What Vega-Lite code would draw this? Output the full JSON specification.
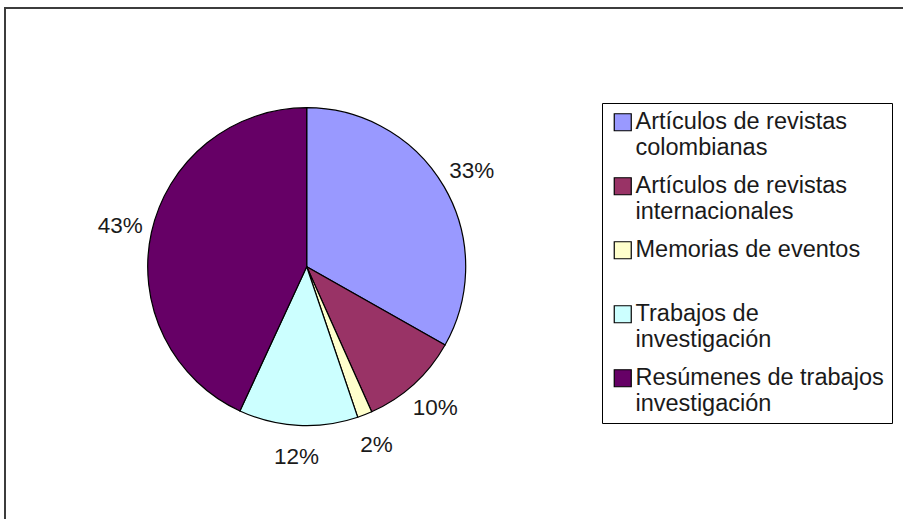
{
  "$schema": "https://vega.github.io/schema/vega-lite/v6.json",
  "width": 903,
  "height": 519,
  "padding": {"left": 5, "top": 8, "right": 0, "bottom": 0},
  "autosize": {"type": "none"},
  "background": "white",
  "config": {
    "view": {"stroke": null},
    "font": "Liberation Sans"
  },
  "datasets": {
    "marco": [{"marco": 1}],
    "datos": [
      {"idx": 1, "categoria": "Artículos de revistas colombianas", "valor": 33.2, "etiqueta": "33%"},
      {"idx": 2, "categoria": "Artículos de revistas internacionales", "valor": 10.1, "etiqueta": "10%"},
      {"idx": 3, "categoria": "Memorias de eventos", "valor": 1.5, "etiqueta": "2%"},
      {"idx": 4, "categoria": "Trabajos de investigación", "valor": 12.1, "etiqueta": "12%"},
      {"idx": 5, "categoria": "Resúmenes de trabajos investigación", "valor": 43.1, "etiqueta": "43%"}
    ]
  },
  "layer": [
    {
      "data": {"name": "marco"},
      "mark": {"type": "rect", "x": 0, "y": 0, "x2": "width", "y2": "height", "fill": null, "stroke": "#3c3c3c", "strokeWidth": 2},
      "encoding": {}
    },
    {
      "data": {"name": "datos"},
      "mark": {"type": "arc", "outerRadius": 159, "stroke": "#000000", "strokeWidth": 1.2, "x": 301.7, "y": 258.7},
      "encoding": {
        "theta": {"field": "valor", "type": "quantitative", "stack": true},
        "order": {"field": "idx", "type": "quantitative"},
        "color": {
          "field": "categoria",
          "type": "nominal",
          "scale": {
            "domain": ["Artículos de revistas colombianas", "Artículos de revistas internacionales", "Memorias de eventos", "Trabajos de investigación", "Resúmenes de trabajos investigación"],
            "range": ["#9999FF", "#993366", "#FFFFCC", "#CCFFFF", "#660066"]
          },
          "legend": {
            "orient": "none",
            "legendX": 597,
            "legendY": 95,
            "title": null,
            "strokeColor": "#000000",
            "fillColor": "#ffffff",
            "padding": 7.5,
            "symbolOffset": 1.5,
            "labelFont": "Liberation Sans",
            "labelFontSize": 23.5,
            "labelLineHeight": 25,
            "labelLimit": 400,
            "labelColor": "#1a1a1a",
            "labelOffset": 1,
            "rowPadding": 14,
            "symbolType": "square",
            "symbolSize": 289,
            "symbolStrokeColor": "#000000",
            "symbolStrokeWidth": 1.2,
            "symbolOpacity": 1,
            "labelExpr": "datum.label == 'Artículos de revistas colombianas' ? ['Artículos de revistas', 'colombianas'] : datum.label == 'Artículos de revistas internacionales' ? ['Artículos de revistas', 'internacionales'] : datum.label == 'Memorias de eventos' ? ['Memorias de eventos', ''] : datum.label == 'Trabajos de investigación' ? ['Trabajos de', 'investigación'] : ['Resúmenes de trabajos', 'investigación']"
          }
        }
      }
    },
    {
      "data": {"name": "datos"},
      "mark": {"type": "text", "radius": 191, "x": 301.7, "y": 258.7, "fontSize": 22.5, "fill": "#1a1a1a", "font": "Liberation Sans"},
      "encoding": {
        "theta": {"field": "valor", "type": "quantitative", "stack": true},
        "order": {"field": "idx", "type": "quantitative"},
        "text": {"field": "etiqueta", "type": "nominal"}
      }
    }
  ]
}
